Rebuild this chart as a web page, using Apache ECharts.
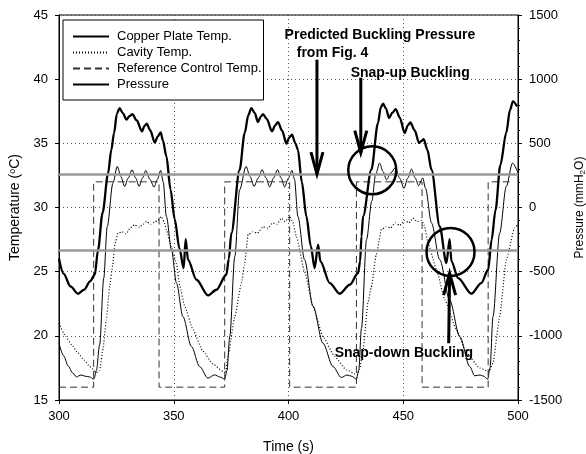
<!DOCTYPE html>
<html>
<head>
<meta charset="utf-8">
<script src="https://cdn.jsdelivr.net/npm/echarts@6/dist/echarts.min.js"></script>
<style>
html, body { margin: 0; padding: 0; background: #fff; }
#chart { width: 586px; height: 454px; }
</style>
</head>
<body>
<div id="chart"></div>
<script>
// [time (s), temperature (°C)]
var copperTemp = [
  [300, 19.43], [302, 18.45], [304, 17.65], [306, 17.1], [307.6, 16.8], [309.6, 16.95], [311.5, 16.85], [313.3, 16.8],
  [315.2, 16.63], [316.3, 17.3], [317.7, 19.3], [319.5, 24.5], [321, 28.5], [323.5, 31.9], [325.4, 33.2], [327, 32.4],
  [328.6, 31.64], [330.2, 32.3], [331.8, 32.94], [333.4, 32.3], [334.9, 31.64], [336.4, 32.3], [337.8, 32.89], [339.6, 32.2],
  [341.4, 31.59], [342.9, 32.2], [344.3, 32.89], [345.4, 32.0], [346.8, 29.3], [349, 26.7], [351.2, 24.11], [354, 21.5],
  [357.7, 19.17], [361.3, 17.6], [364.9, 16.7], [367.8, 16.96], [370, 16.8], [372.2, 16.63], [373.2, 17.3], [374.4, 19.95],
  [376.6, 26.18], [378.7, 31.38], [381.5, 33.2], [383.3, 32.4], [385, 31.64], [386.8, 32.3], [388.5, 32.94], [390.2, 32.3],
  [391.8, 31.6], [393.5, 32.3], [395.2, 32.94], [396.8, 32.3], [398.3, 31.6], [400, 32.3], [401.5, 32.89], [402.6, 32.2],
  [404.1, 29.3], [407, 25.93], [410.7, 22.29], [415, 19.43], [419.4, 17.6], [423, 16.75], [425.5, 16.95], [427.5, 16.85],
  [429.6, 16.63], [430.6, 17.3], [431.8, 20.6], [434, 27.5], [436.3, 30.5], [438, 32.6], [439.7, 33.46], [441.2, 32.8],
  [442.7, 32.16], [444.6, 32.7], [446.5, 33.1], [448.4, 32.3], [450.3, 31.5], [452, 32.3], [453.6, 33.0], [455.2, 32.3],
  [456.7, 31.7], [458.5, 32.3], [459.7, 31.5], [462.3, 28.8], [465.9, 25.93], [470.2, 22.8], [474.6, 19.95], [479, 17.6],
  [481.1, 16.89], [483.5, 16.95], [485, 16.85], [486.8, 16.63], [487.8, 17.5], [489.1, 21.5], [492, 28.0], [494.9, 31.64],
  [497.6, 33.46], [500, 32.7]
];

var cavityTemp = [
  [300, 20.99], [302.9, 19.95], [305.5, 19.3], [308.3, 18.66], [311, 18.1], [313.4, 17.6], [316.3, 17.14], [317.7, 17.3],
  [319.2, 19], [320.6, 21.25], [322.1, 23.85], [323.4, 25.5], [324.3, 27.1], [325.7, 28.0], [327.5, 28.1], [329.3, 27.95],
  [331, 28.4], [333, 28.65], [335.1, 28.45], [336.6, 28.7], [338.1, 28.91], [340, 28.7], [341.5, 28.85], [343.2, 29.0],
  [344.6, 29.3], [345.7, 28.9], [346.8, 28.27], [349, 26.9], [351.2, 25.6], [352.6, 23.9], [354.8, 22.3], [358.4, 20.47],
  [362.7, 18.8], [367.1, 17.8], [371.5, 17.22], [372.6, 17.1], [373.6, 18.4], [376.6, 21.5], [379.5, 24.11], [380.8, 25.5],
  [382.4, 27.9], [384.5, 28.1], [386.5, 28.0], [388.9, 28.5], [391, 28.4], [393.2, 28.8], [395, 28.7], [396.9, 29.17],
  [398.5, 28.9], [400.5, 29.3], [401.8, 28.9], [403.5, 27.7], [407, 25.0], [410.7, 22.29], [415, 19.95], [420.1, 18.4],
  [425.2, 17.35], [429.9, 16.96], [431, 17.4], [432.5, 18.92], [434.6, 22.55], [436.1, 23.8], [438.2, 26.3], [440.5, 28.3],
  [442.5, 28.5], [444.5, 28.4], [446.5, 28.8], [448.5, 28.6], [450.5, 29.0], [452.5, 28.8], [454.3, 29.17], [456, 28.9],
  [458, 29.0], [459.2, 28.6], [460.8, 27.23], [464.5, 25.15], [468.1, 22.8], [473.2, 20.47], [477.5, 18.66], [483.3, 17.49],
  [487.4, 17.22], [489.1, 17.88], [492, 21.5], [494.9, 25.93], [498.5, 28.4], [500, 28.7]
];

var refTemp = [
  [300, 16], [315.1, 16], [315.1, 32], [343.6, 32], [343.6, 16], [372.2, 16], [372.2, 32], [400.5, 32],
  [400.5, 16], [429.6, 16], [429.6, 32], [458.2, 32], [458.2, 16], [487, 16], [487, 32], [497, 32]
];

// [time (s), pressure (mmH2O)]
var pressure = [
  [300, -400], [302, -515], [305, -615], [308.3, -672], [311, -640], [313.5, -575], [315.6, -524], [317, -330],
  [319, -40], [321.4, 268], [322.8, 450], [324, 580], [325.2, 730], [326.4, 775], [327.8, 735], [329.4, 684],
  [330.7, 712], [332, 728], [333.8, 680], [336.2, 593], [337.2, 635], [338.2, 653], [339.8, 600], [341.7, 507],
  [343.1, 555], [344.3, 585], [345.3, 520], [346.8, 398], [348.6, 140], [350.4, -90], [352.5, -320], [354.3, -472],
  [355.2, -246], [356.2, -407], [359.9, -563], [364.9, -685], [368.6, -641], [372.9, -524], [374, -400], [375.1, -200],
  [378.7, 294], [380.9, 580], [382.5, 720], [383.8, 775], [385.3, 735], [386.7, 666], [388, 710], [388.9, 728],
  [390.5, 690], [392.8, 593], [394.2, 640], [395.4, 666], [397.2, 600], [399.1, 497], [400.3, 545], [401.5, 567],
  [403, 500], [404.1, 450], [405.8, 200], [407.8, -70], [409.7, -300], [411.4, -472], [412.9, -290], [413.9, -420],
  [418, -589], [422.3, -672], [426.7, -602], [430.3, -511], [431.2, -420], [431.8, -225], [432.5, -70], [436.1, 294],
  [439, 658], [440.2, 780], [441.2, 809], [442.5, 770], [443.8, 697], [445.3, 740], [446.7, 767], [448.5, 700],
  [450.6, 580], [452, 640], [453.1, 663], [455, 600], [456.9, 502], [458, 520], [458.9, 533], [460.5, 450],
  [462.3, 294], [465.9, -148], [468.8, -433], [470.2, -246], [471, -420], [473.9, -550], [479.7, -672], [484, -589],
  [487, -485], [488.5, -250], [490.2, -20], [492.3, 330], [494.9, 584], [496.5, 760], [497.8, 827], [499.6, 788]
];

// predicted buckling pressures (mmH2O)
var bucklingLevels = [260, -335];

var FONT = 'Arial, "Liberation Sans", sans-serif';

var chart = echarts.init(document.getElementById('chart'));

function plain(v) { return String(v); }

var option = {
  animation: false,
  backgroundColor: '#fff',
  textStyle: { fontFamily: FONT, color: '#000' },
  legend: {
    left: 63,
    top: 20,
    orient: 'vertical',
    padding: [10, 2, 9, 9],
    itemGap: 3,
    itemWidth: 36,
    itemHeight: 13,
    borderColor: '#000',
    borderWidth: 1,
    backgroundColor: '#fff',
    itemStyle: { opacity: 0 },
    textStyle: { fontSize: 13, color: '#000', fontFamily: FONT, padding: [0, 0, 0, 3] },
    data: ['Copper Plate Temp.', 'Cavity Temp.', 'Reference Control Temp.', 'Pressure']
  },
  grid: {
    left: 59,
    right: 68,
    top: 15,
    bottom: 54,
    outerBoundsMode: 'none',
    containLabel: false,
    show: true,
    borderColor: '#000',
    borderWidth: 1
  },
  xAxis: {
    type: 'value',
    min: 300,
    max: 500,
    interval: 50,
    name: 'Time (s)',
    nameLocation: 'middle',
    nameGap: 40,
    nameTextStyle: { fontSize: 14, color: '#000', fontFamily: FONT },
    axisLine: { onZero: false, lineStyle: { color: '#000', width: 1 } },
    axisTick: { show: true, length: 4, lineStyle: { color: '#000' } },
    axisLabel: { fontSize: 13, color: '#000', margin: 10, fontFamily: FONT, formatter: plain },
    splitLine: { show: true, lineStyle: { color: '#555', type: [1, 3], width: 1 } }
  },
  yAxis: [
    {
      type: 'value',
      min: 15,
      max: 45,
      interval: 5,
      name: 'Temperature ({sup|o}C)',
      nameLocation: 'middle',
      nameGap: 36,
      nameRotate: 90,
      nameTextStyle: {
        fontSize: 14, color: '#000', fontFamily: FONT,
        rich: { sup: { fontSize: 9, padding: [0, 0, 6, 0], fontFamily: FONT } }
      },
      axisLine: { show: true, onZero: false, lineStyle: { color: '#000', width: 1 } },
      axisTick: { show: true, length: 4, lineStyle: { color: '#000' } },
      axisLabel: { fontSize: 13, color: '#000', margin: 11, fontFamily: FONT, formatter: plain },
      splitLine: { show: true, lineStyle: { color: '#555', type: [1, 3], width: 1 } }
    },
    {
      type: 'value',
      min: -1500,
      max: 1500,
      interval: 500,
      position: 'right',
      name: 'Pressure (mmH{sub|2}O)',
      nameLocation: 'middle',
      nameGap: 55,
      nameRotate: 90,
      nameTextStyle: {
        fontSize: 12, color: '#000', fontFamily: FONT,
        rich: { sub: { fontSize: 8, padding: [6, 0, 0, 0], fontFamily: FONT } }
      },
      axisLine: { show: true, onZero: false, lineStyle: { color: '#000', width: 1 } },
      axisTick: { show: true, length: 4, lineStyle: { color: '#000' } },
      minorTick: { show: true, splitNumber: 5, length: 2, lineStyle: { color: '#000' } },
      axisLabel: { fontSize: 13, color: '#000', margin: 11, fontFamily: FONT, formatter: plain },
      splitLine: { show: false }
    }
  ],
  series: [
    {
      name: 'Copper Plate Temp.',
      type: 'line',
      data: copperTemp,
      symbol: 'none',
      smooth: 0.3,
      smoothMonotone: 'x',
      lineStyle: { color: '#000', width: 1 },
      itemStyle: { color: '#000' },
      z: 3
    },
    {
      name: 'Cavity Temp.',
      type: 'line',
      data: cavityTemp,
      symbol: 'none',
      smooth: 0.15,
      smoothMonotone: 'x',
      lineStyle: { color: '#000', width: 1.2, type: [1, 2] },
      itemStyle: { color: '#000' },
      z: 3
    },
    {
      name: 'Reference Control Temp.',
      type: 'line',
      data: refTemp,
      symbol: 'none',
      lineStyle: { color: '#333', width: 1, type: [7, 4] },
      itemStyle: { color: '#333' },
      z: 3
    },
    {
      name: 'Pressure',
      type: 'line',
      yAxisIndex: 1,
      data: pressure,
      symbol: 'none',
      smooth: 0.3,
      smoothMonotone: 'x',
      lineStyle: { color: '#000', width: 2.3 },
      itemStyle: { color: '#000' },
      z: 4,
      markLine: {
        silent: true,
        symbol: 'none',
        label: { show: false },
        lineStyle: { color: '#999', width: 2.5, type: 'solid' },
        data: bucklingLevels.map(function (v) { return { yAxis: v }; })
      }
    }
  ]
};

chart.setOption(option);

// annotations anchored in (time, pressure) coordinates
function px(t, p) {
  return chart.convertToPixel({ xAxisIndex: 0, yAxisIndex: 1 }, [t, p]);
}

function arrow(from, to, dir) {
  var a = px(from[0], from[1]);
  var b = px(to[0], to[1]);
  var d = dir * 22;
  return [
    { type: 'line', shape: { x1: a[0], y1: a[1], x2: b[0], y2: b[1] }, style: { stroke: '#000', lineWidth: 3 }, z: 10 },
    { type: 'polyline', shape: { points: [[b[0] - 6, b[1] - d], [b[0], b[1]], [b[0] + 6, b[1] - d]] }, style: { stroke: '#000', lineWidth: 3, fill: null }, z: 10 }
  ];
}

function ring(t, p) {
  var c = px(t, p);
  return { type: 'circle', shape: { cx: c[0], cy: c[1], r: 24 }, style: { stroke: '#000', lineWidth: 2.5, fill: null }, z: 10 };
}

function label(t, p, text) {
  var c = px(t, p);
  return {
    type: 'text', x: c[0], y: c[1], z: 11,
    style: { text: text, font: 'bold 14px ' + FONT, fill: '#000', verticalAlign: 'middle' }
  };
}

var graphics = []
  .concat(arrow([412.4, 1152], [412.4, 260], 1))
  .concat(arrow([431.5, 1011], [431.5, 427], 1))
  .concat(arrow([469.8, -1057], [470.2, -511], -1))
  .concat([
    ring(436.5, 290),
    ring(470.6, -346),
    label(398.3, 1346, 'Predicted Buckling Pressure'),
    label(403.6, 1206, 'from Fig. 4'),
    label(427.1, 1050, 'Snap-up Buckling'),
    label(420.1, -1134, 'Snap-down Buckling')
  ]);

chart.setOption({ graphic: graphics });
</script>
</body>
</html>
